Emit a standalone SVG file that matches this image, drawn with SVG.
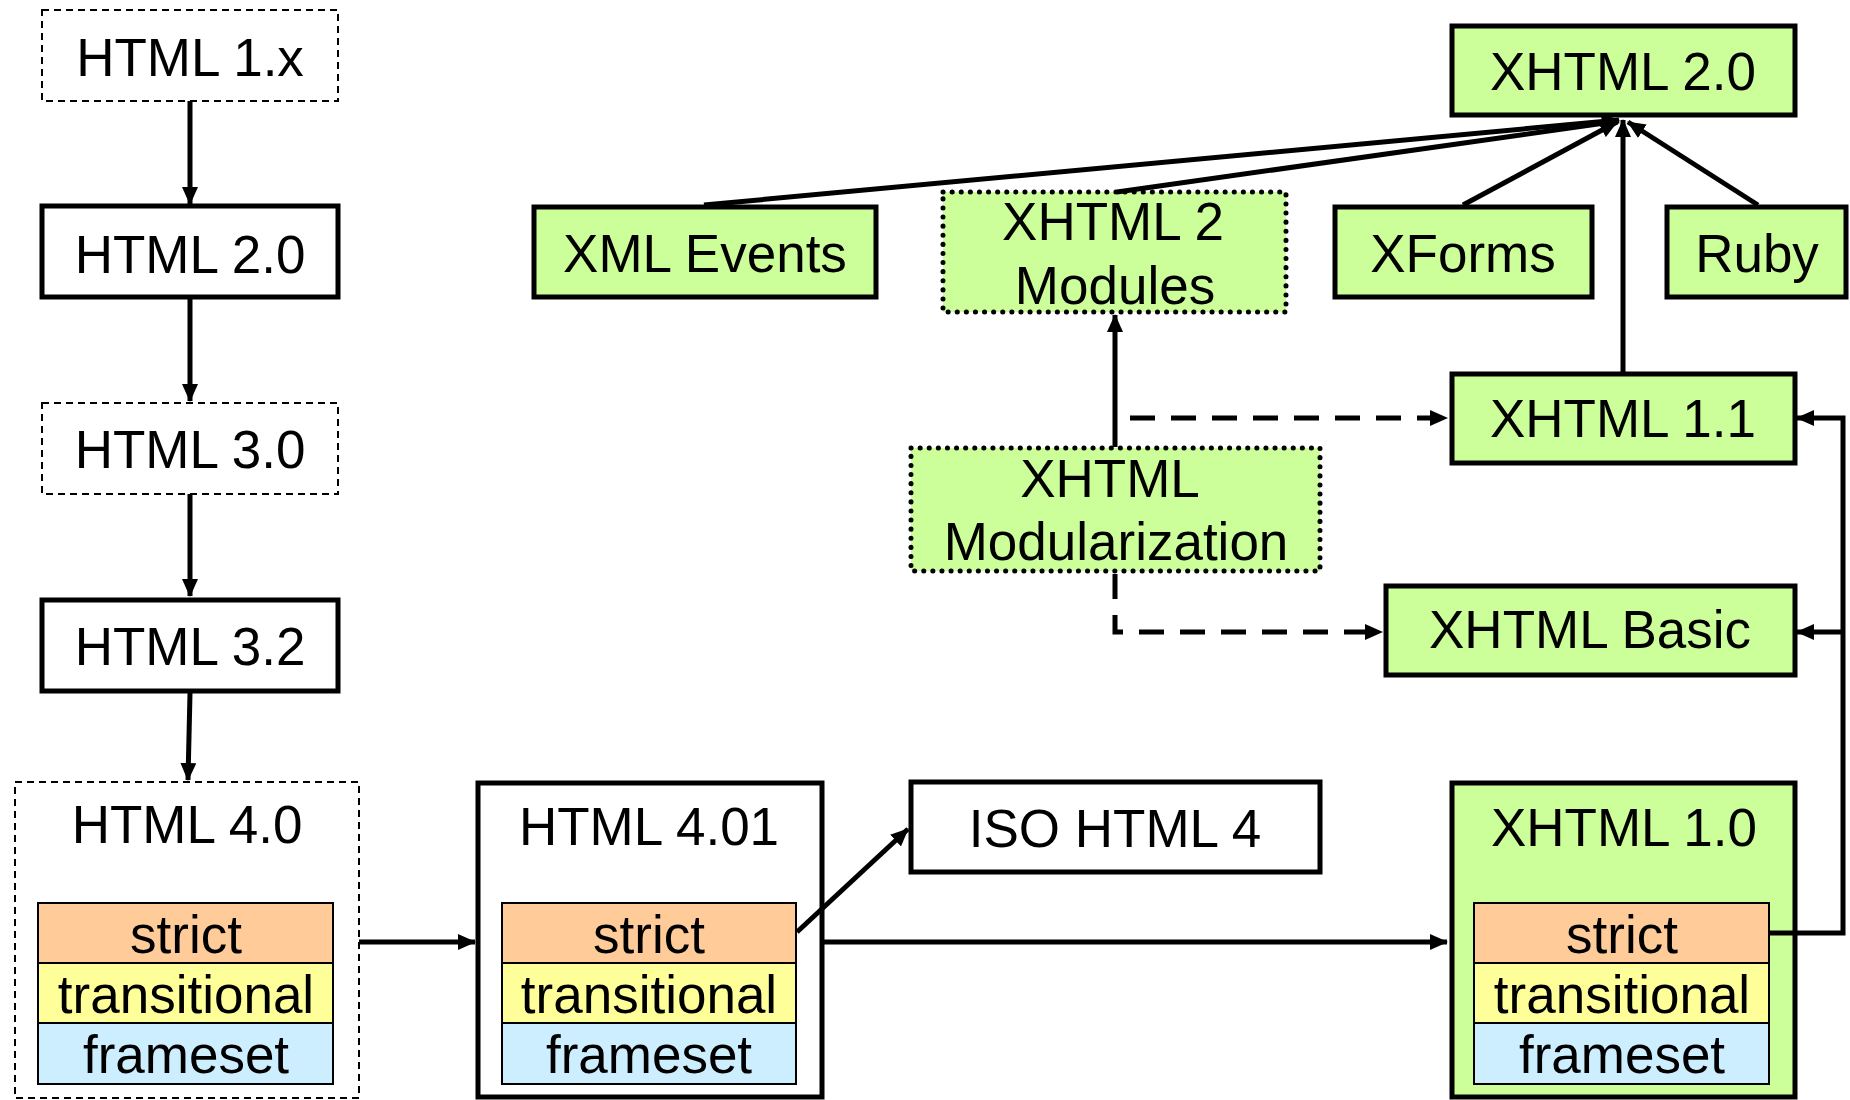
<svg xmlns="http://www.w3.org/2000/svg" width="1850" height="1100" viewBox="0 0 1850 1100">
<style>
text{font-family:"Liberation Sans",Arial,sans-serif;font-size:53px;fill:#000;text-anchor:middle}
.thin{fill:#fff;stroke:#000;stroke-width:2;stroke-dasharray:7 5}
.thick{fill:#fff;stroke:#000;stroke-width:5}
.green{fill:#ccff99;stroke:#000;stroke-width:5}
.dot{fill:#ccff99;stroke:#000;stroke-width:5;stroke-dasharray:0.1 9;stroke-linecap:round}
.s{fill:#ffcc99;stroke:#000;stroke-width:2}
.t{fill:#ffff99;stroke:#000;stroke-width:2}
.f{fill:#cceeff;stroke:#000;stroke-width:2}
.c{fill:none;stroke:#000;stroke-width:5}
.d{fill:none;stroke:#000;stroke-width:5;stroke-dasharray:25 16}
</style>
<defs>
<marker id="ah" viewBox="0 0 18 16" refX="17" refY="8" markerWidth="18" markerHeight="16" markerUnits="userSpaceOnUse" orient="auto">
<path d="M0,0 L18,8 L0,16 Z" fill="#000"/>
</marker>
</defs>
<g id="html1x"><rect class="thin" x="42" y="10" width="296" height="91"/><text x="190" y="76">HTML 1.x</text></g>
<g id="html20"><rect class="thick" x="42" y="206" width="296" height="91"/><text x="190" y="273">HTML 2.0</text></g>
<g id="html30"><rect class="thin" x="42" y="403" width="296" height="91"/><text x="190" y="468">HTML 3.0</text></g>
<g id="html32"><rect class="thick" x="42" y="600" width="296" height="91"/><text x="190" y="665">HTML 3.2</text></g>
<g id="html40"><rect class="thin" x="15" y="782" width="344" height="316"/><text x="187" y="843">HTML 4.0</text>
<rect class="s" x="38" y="903" width="295" height="60"/><text x="186" y="953">strict</text>
<rect class="t" x="38" y="963" width="295" height="60"/><text x="186" y="1013">transitional</text>
<rect class="f" x="38" y="1023" width="295" height="61"/><text x="186" y="1073">frameset</text></g>
<g id="html401"><rect class="thick" x="478" y="783" width="344" height="314"/><text x="649" y="845">HTML 4.01</text>
<rect class="s" x="502" y="903" width="294" height="60"/><text x="649" y="953">strict</text>
<rect class="t" x="502" y="963" width="294" height="60"/><text x="649" y="1013">transitional</text>
<rect class="f" x="502" y="1023" width="294" height="61"/><text x="649" y="1073">frameset</text></g>
<g id="isohtml4"><rect class="thick" x="911" y="782" width="409" height="90"/><text x="1115" y="847">ISO HTML 4</text></g>
<g id="xhtml10"><rect class="green" x="1452" y="783" width="343" height="314"/><text x="1624" y="846">XHTML 1.0</text>
<rect class="s" x="1474" y="903" width="295" height="60"/><text x="1622" y="953">strict</text>
<rect class="t" x="1474" y="963" width="295" height="60"/><text x="1622" y="1013">transitional</text>
<rect class="f" x="1474" y="1023" width="295" height="61"/><text x="1622" y="1073">frameset</text></g>
<g id="xhtml20"><rect class="green" x="1452" y="26" width="343" height="89"/><text x="1623" y="90">XHTML 2.0</text></g>
<g id="xmlevents"><rect class="green" x="534" y="207" width="342" height="90"/><text x="705" y="272">XML Events</text></g>
<g id="xhtml2modules"><rect class="dot" x="943" y="192" width="343" height="120"/><text x="1113" y="240">XHTML 2</text><text x="1115" y="304">Modules</text></g>
<g id="xforms"><rect class="green" x="1335" y="207" width="257" height="90"/><text x="1463" y="272">XForms</text></g>
<g id="ruby"><rect class="green" x="1667" y="207" width="179" height="90"/><text x="1757" y="272">Ruby</text></g>
<g id="xhtml11"><rect class="green" x="1452" y="374" width="343" height="89"/><text x="1623" y="437">XHTML 1.1</text></g>
<g id="xhtmlmod"><rect class="dot" x="911" y="448" width="409" height="123"/><text x="1110" y="497">XHTML</text><text x="1116" y="560">Modularization</text></g>
<g id="xhtmlbasic"><rect class="green" x="1386" y="586" width="409" height="89"/><text x="1590" y="648">XHTML Basic</text></g>
<g id="connectors">
<path class="c" d="M190,101 V204" marker-end="url(#ah)"/>
<path class="c" d="M190,299 V401" marker-end="url(#ah)"/>
<path class="c" d="M190,494 V596" marker-end="url(#ah)"/>
<path class="c" d="M190,693 L188,780" marker-end="url(#ah)"/>
<path class="c" d="M359,942 H475" marker-end="url(#ah)"/>
<path class="c" d="M797,932 L908,829" marker-end="url(#ah)"/>
<path class="c" d="M823,942 H1447" marker-end="url(#ah)"/>
<path class="c" d="M1769,933 H1843 V418 H1797" marker-end="url(#ah)"/>
<path class="c" d="M1843,632 H1797" marker-end="url(#ah)"/>
<path class="c" d="M1623,372 V120" marker-end="url(#ah)"/>
<path class="c" d="M704,205 L1619,120" marker-end="url(#ah)"/>
<path class="c" d="M1117,192 L1619,121" marker-end="url(#ah)"/>
<path class="c" d="M1463,205 L1617,122" marker-end="url(#ah)"/>
<path class="c" d="M1758,205 L1628,122" marker-end="url(#ah)"/>
<path class="c" d="M1115,447 V315" marker-end="url(#ah)"/>
<path class="d" d="M1130,418 H1447" marker-end="url(#ah)"/>
<path class="d" d="M1115,574 V632 H1382" marker-end="url(#ah)"/>
</g>
</svg>
